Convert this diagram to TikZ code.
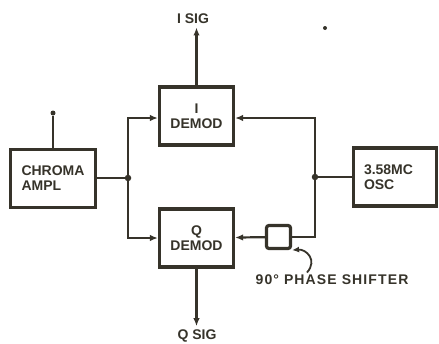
\documentclass[tikz,border=0pt]{standalone}
\usepackage{fontspec}
\setmainfont{Liberation Sans}
\usepackage{tikz}
\usetikzlibrary{arrows.meta,positioning,calc}
\definecolor{ink}{HTML}{36332A}

\begin{document}
\begin{tikzpicture}[
  x=1pt,y=-1pt,
  every node/.style={font=\fontsize{14}{15}\selectfont\bfseries,text=ink},
  blk/.style={draw=ink,line width=3.2pt,minimum height=58pt,inner sep=0pt},
  wire/.style={draw=ink,line width=2.2pt},
  arr/.style={wire,-{Latex[length=8pt,width=6.5pt]}},
  dot/.style={circle,fill=ink,inner sep=0pt,minimum size=6.5pt}
]
\useasboundingbox (0,0) rectangle (439,343);
% blocks
\node[blk,minimum width=85pt,align=left] (chroma) at (53,178.5) {CHROMA\\AMPL};
\node[blk,minimum width=74pt,align=center] (idemod) at (196.5,116) {I\\DEMOD};
\node[blk,minimum width=74pt,align=center] (qdemod) at (196.5,238) {Q\\DEMOD};
\node[blk,minimum width=83pt,align=left,text width=62pt] (osc) at (395,177) {3.58MC\\OSC};
\node[draw=ink,line width=3.2pt,rounded corners=2.5pt,minimum width=24pt,minimum height=23pt] (shift) at (278.5,237) {};
% junctions
\node[dot] (jl) at (128,178) {};
\node[dot] (jr) at (315,177) {};
\node[dot,minimum size=5pt] (tap) at (53,113) {};
\node[dot,minimum size=4pt] (speck) at (325,28) {};
% labels
\node (isig) at (193,19) {I SIG};
\node (qsig) at (197,336) {Q SIG};
\node[font=\addfontfeatures{LetterSpace=8}\fontsize{14}{15}\selectfont\bfseries] (phase) at (332,280) {90° PHASE SHIFTER};
% connectors
\draw[wire] (tap) -- (chroma);
\draw[wire] (chroma.east |- jl) -- (jl);
\draw[arr] (jl) |- (idemod.west |- 0,118);
\draw[arr] (jl) |- (qdemod);
\draw[wire] (osc.west |- jr) -- (jr);
\draw[arr] (jr) |- (idemod.east |- 0,118);
\draw[wire] (jr) |- (shift);
\draw[arr] (shift) -- (qdemod);
\draw[arr] (idemod.north) -- (idemod.north |- isig.south);
\draw[arr] (qdemod.south) -- (qdemod.south |- qsig.north);
\draw[wire,line width=1.8pt,-{Latex[length=7pt,width=6pt]}] ($(phase.north)+(-25,1)$) .. controls (318,260) and (306,249) .. (shift.south east);
\end{tikzpicture}
\end{document}
